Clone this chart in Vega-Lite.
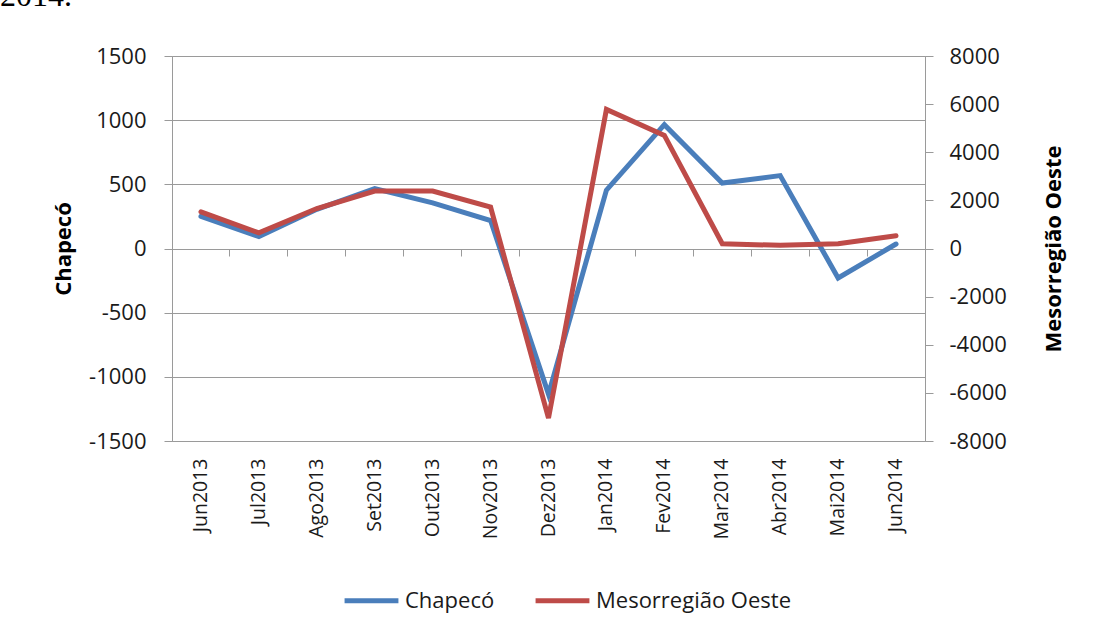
{
  "$schema": "https://vega.github.io/schema/vega-lite/v6.json",
  "width": 753,
  "height": 385,
  "autosize": {"type": "none"},
  "padding": {"left": 172, "top": 56, "right": 180, "bottom": 191},
  "background": "white",
  "title": {"text": "2014.", "anchor": "start", "frame": "group", "font": "Liberation Serif", "fontSize": 32, "fontWeight": "normal", "color": "black", "baseline": "alphabetic", "offset": 7, "dy": 0, "dx": -172},
  "config": {
    "font": "Open Sans",
    "view": {"stroke": "#9a9a9a", "strokeWidth": 1}
  },
  "data": {
    "values": [
      {"mes": "Jun2013", "serie": "Chapecó", "valor": 250},
      {"mes": "Jul2013", "serie": "Chapecó", "valor": 93},
      {"mes": "Ago2013", "serie": "Chapecó", "valor": 305},
      {"mes": "Set2013", "serie": "Chapecó", "valor": 467},
      {"mes": "Out2013", "serie": "Chapecó", "valor": 355},
      {"mes": "Nov2013", "serie": "Chapecó", "valor": 218},
      {"mes": "Dez2013", "serie": "Chapecó", "valor": -1135},
      {"mes": "Jan2014", "serie": "Chapecó", "valor": 455},
      {"mes": "Fev2014", "serie": "Chapecó", "valor": 965},
      {"mes": "Mar2014", "serie": "Chapecó", "valor": 510},
      {"mes": "Abr2014", "serie": "Chapecó", "valor": 568},
      {"mes": "Mai2014", "serie": "Chapecó", "valor": -230},
      {"mes": "Jun2014", "serie": "Chapecó", "valor": 35},
      {"mes": "Jun2013", "serie": "Mesorregião Oeste", "valor": 1525},
      {"mes": "Jul2013", "serie": "Mesorregião Oeste", "valor": 650},
      {"mes": "Ago2013", "serie": "Mesorregião Oeste", "valor": 1660},
      {"mes": "Set2013", "serie": "Mesorregião Oeste", "valor": 2390},
      {"mes": "Out2013", "serie": "Mesorregião Oeste", "valor": 2390},
      {"mes": "Nov2013", "serie": "Mesorregião Oeste", "valor": 1720},
      {"mes": "Dez2013", "serie": "Mesorregião Oeste", "valor": -7050},
      {"mes": "Jan2014", "serie": "Mesorregião Oeste", "valor": 5780},
      {"mes": "Fev2014", "serie": "Mesorregião Oeste", "valor": 4700},
      {"mes": "Mar2014", "serie": "Mesorregião Oeste", "valor": 200},
      {"mes": "Abr2014", "serie": "Mesorregião Oeste", "valor": 130},
      {"mes": "Mai2014", "serie": "Mesorregião Oeste", "valor": 200},
      {"mes": "Jun2014", "serie": "Mesorregião Oeste", "valor": 530}
    ]
  },
  "layer": [
    {
      "transform": [{"filter": "datum.serie === 'Chapecó'"}],
      "mark": {"type": "line", "strokeWidth": 5, "strokeCap": "round"},
      "encoding": {
        "x": {
          "field": "mes", "type": "ordinal",
          "sort": ["Jun2013","Jul2013","Ago2013","Set2013","Out2013","Nov2013","Dez2013","Jan2014","Fev2014","Mar2014","Abr2014","Mai2014","Jun2014"],
          "scale": {"type": "band", "paddingInner": 0, "paddingOuter": 0},
          "axis": {"orient": "bottom", "title": null, "labelAngle": -90, "ticks": false, "tickSize": 0, "domain": false, "labelPadding": 17, "labelFontSize": 19.5, "labelColor": "#1a1a1a", "labelFont": "Open Sans"}
        },
        "y": {
          "field": "valor", "type": "quantitative",
          "scale": {"domain": [-1500, 1500], "nice": false, "zero": false},
          "axis": {"orient": "left", "title": "Chapecó", "values": [-1500, -1000, -500, 0, 500, 1000, 1500], "labelExpr": "'' + datum.value", "grid": true, "gridColor": "#9a9a9a", "domainColor": "#9a9a9a", "tickColor": "#9a9a9a", "tickSize": 8, "labelPadding": 18, "labelFontSize": 22, "labelColor": "#1a1a1a", "titleFontSize": 22, "titleFontWeight": "bold", "titleColor": "black", "titlePadding": 13}
        },
        "color": {
          "field": "serie", "type": "nominal",
          "scale": {"domain": ["Chapecó", "Mesorregião Oeste"], "range": ["#4A7EBB", "#BE4B48"]},
          "legend": {"title": null, "orient": "none", "legendX": 170, "legendY": 515, "direction": "horizontal", "symbolType": "stroke", "symbolSize": 2900, "symbolStrokeWidth": 5, "labelFontSize": 22, "labelColor": "#1a1a1a", "labelOffset": 4, "labelLimit": 400, "columnPadding": 30, "padding": 0}
        }
      }
    },
    {
      "transform": [{"filter": "datum.serie === 'Mesorregião Oeste'"}],
      "mark": {"type": "line", "strokeWidth": 5, "strokeCap": "round"},
      "encoding": {
        "x": {
          "field": "mes", "type": "ordinal",
          "sort": ["Jun2013","Jul2013","Ago2013","Set2013","Out2013","Nov2013","Dez2013","Jan2014","Fev2014","Mar2014","Abr2014","Mai2014","Jun2014"],
          "scale": {"type": "band", "paddingInner": 0, "paddingOuter": 0},
          "axis": {"orient": "bottom", "title": null, "labels": false, "ticks": true, "tickSize": 7, "bandPosition": 0, "domain": true, "domainColor": "#9a9a9a", "tickColor": "#9a9a9a", "offset": -192, "grid": false}
        },
        "y": {
          "field": "valor", "type": "quantitative",
          "scale": {"domain": [-8000, 8000], "nice": false, "zero": false},
          "axis": {"orient": "right", "title": "Mesorregião Oeste", "values": [-8000, -6000, -4000, -2000, 0, 2000, 4000, 6000, 8000], "labelExpr": "'' + datum.value", "grid": false, "domainColor": "#9a9a9a", "tickColor": "#9a9a9a", "tickSize": 8, "labelPadding": 16, "labelFontSize": 22, "labelColor": "#1a1a1a", "titleFontSize": 22, "titleFontWeight": "bold", "titleColor": "black", "titleAngle": 270, "titleBaseline": "top", "titlePadding": 37}
        },
        "color": {
          "field": "serie", "type": "nominal",
          "scale": {"domain": ["Chapecó", "Mesorregião Oeste"], "range": ["#4A7EBB", "#BE4B48"]},
          "legend": {"title": null, "orient": "none", "legendX": 170, "legendY": 515, "direction": "horizontal", "symbolType": "stroke", "symbolSize": 2900, "symbolStrokeWidth": 5, "labelFontSize": 22, "labelColor": "#1a1a1a", "labelOffset": 4, "labelLimit": 400, "columnPadding": 30, "padding": 0}
        }
      }
    }
  ],
  "resolve": {"scale": {"y": "independent"}, "axis": {"x": "independent", "y": "independent"}}
}
